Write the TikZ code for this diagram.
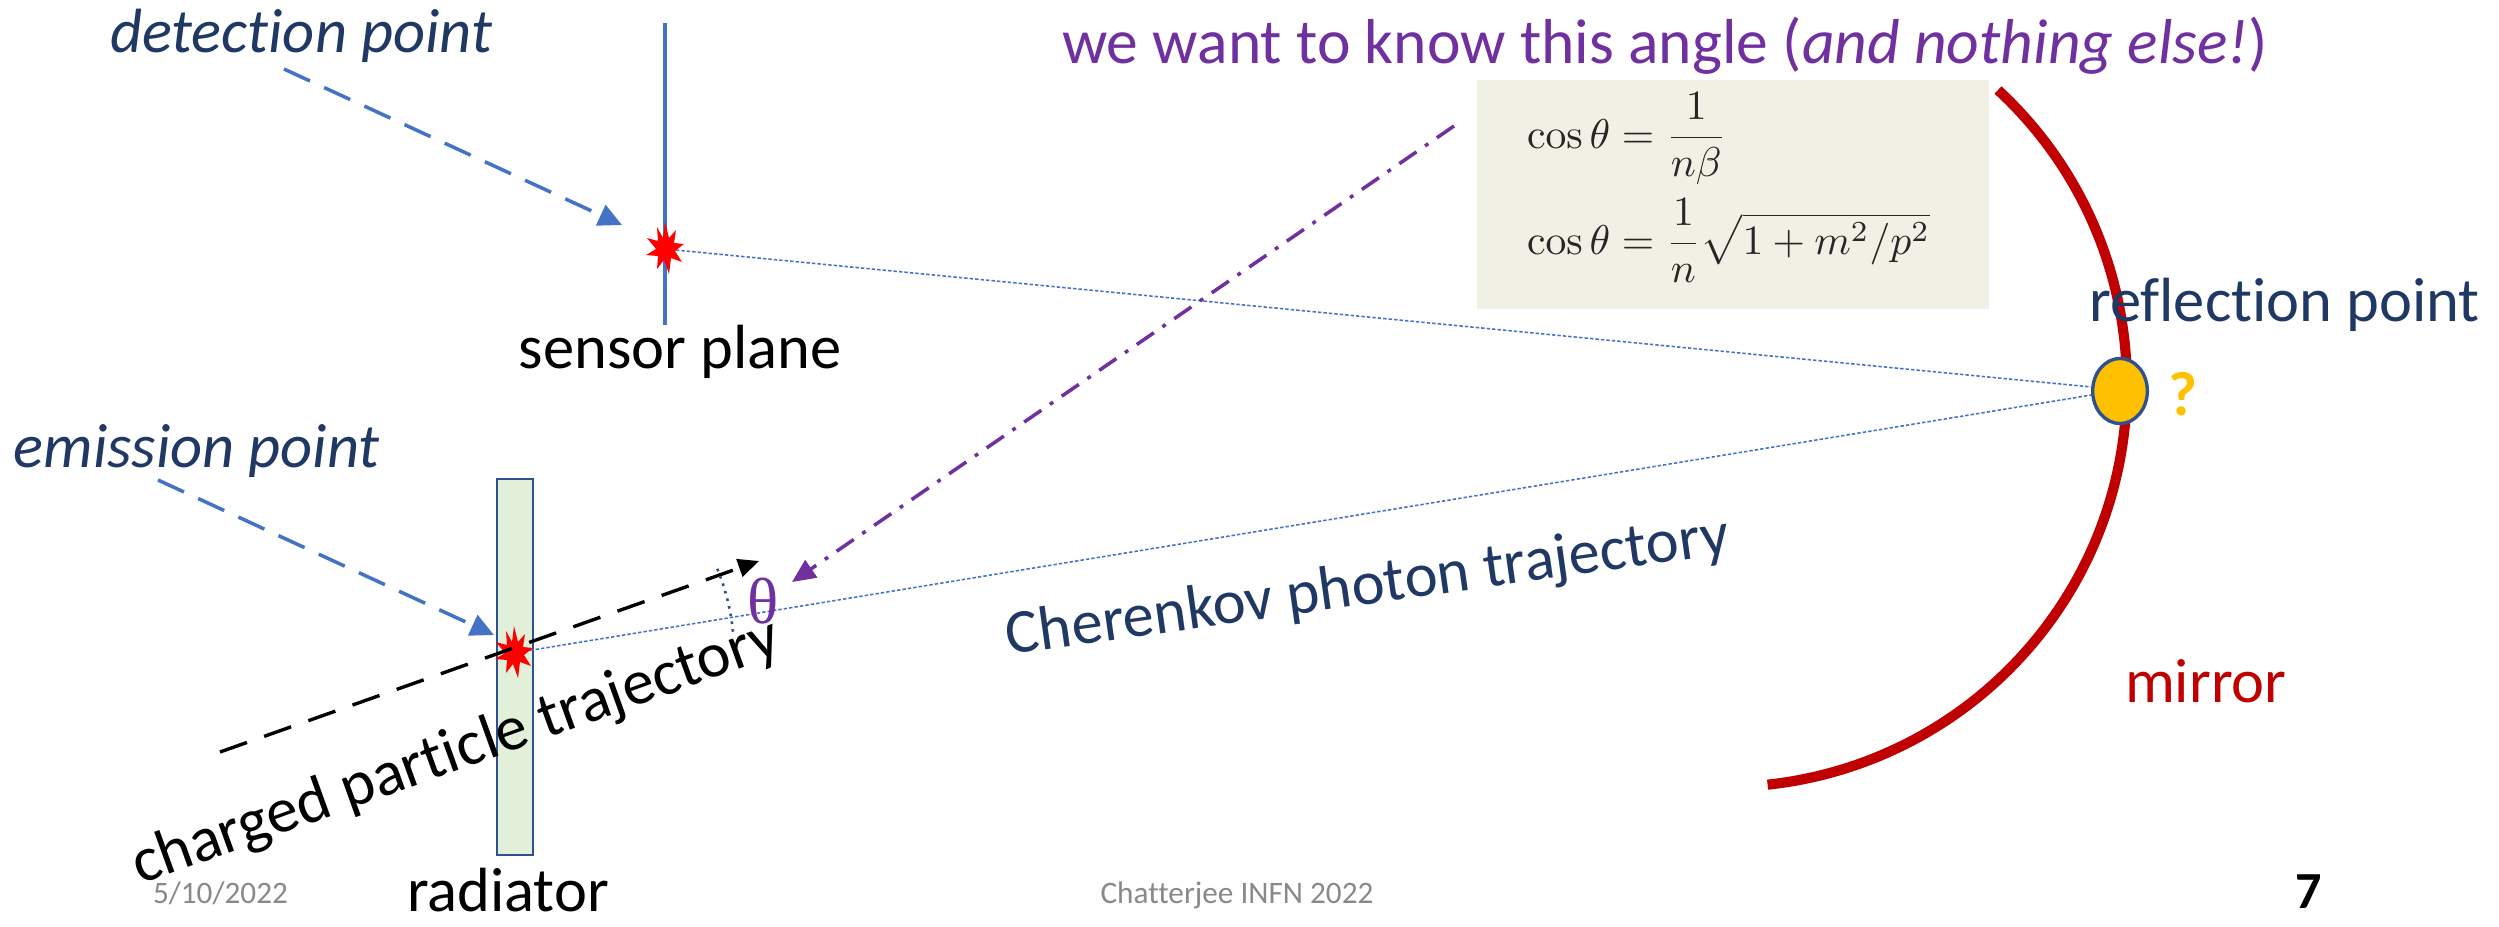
\documentclass[tikz,border=0pt]{standalone}
\usepackage{amsmath}
\usepackage[no-math]{fontspec}
\setmainfont{Carlito}[Ligatures=NoCommon]
\newfontfamily\thetafont{Liberation Serif}
\usetikzlibrary{arrows.meta,shapes.geometric}
\definecolor{navy}{RGB}{31,56,100}
\definecolor{arrblue}{RGB}{68,114,196}
\definecolor{ppl}{RGB}{112,48,160}
\definecolor{mirred}{RGB}{192,0,0}
\definecolor{gold}{RGB}{255,192,0}
\definecolor{edgeblue}{RGB}{47,82,143}
\definecolor{radgreen}{RGB}{226,240,217}
\definecolor{boxbg}{RGB}{241,240,229}
\definecolor{foot}{RGB}{137,137,137}
\tikzset{
  lbl/.style={inner sep=0pt, outer sep=0pt},
  navytxt/.style={lbl, text=navy, font=\fontsize{24}{28}\selectfont},
  blacktxt/.style={lbl, text=black, font=\fontsize{24}{28}\selectfont},
  foottxt/.style={lbl, text=foot, font=\fontsize{12}{14}\selectfont},
  eqtxt/.style={lbl, anchor=base west, text=black!85, font=\fontsize{10}{12}\selectfont},
  pointer/.style={arrblue, line width=1.35pt, dash pattern=on 11pt off 6pt,
    -{Triangle[length=9pt,width=8.5pt]}},
  particle/.style={black, line width=1.3pt, dash pattern=on 11pt off 7pt,
    -{Triangle[length=8pt,width=7pt]}},
  askarrow/.style={ppl, line width=1.35pt, dash pattern=on 8pt off 4pt on 1.5pt off 4pt,
    -{Triangle[length=9pt,width=8pt]}},
  photon/.style={arrblue, line width=0.6pt, dash pattern=on 1.3pt off 0.8pt},
  pics/burst/.style={code={
    \fill[red] (0,-27) -- (4,-11) -- (11,-19) -- (9,-6) -- (19,-5) -- (10,2)
      -- (17,13) -- (6,9) -- (4,25) -- (-1,11) -- (-8,20) -- (-7,7) -- (-19,6)
      -- (-9,0) -- (-18,-11) -- (-7,-8) -- (-8,-22) -- (-2,-11) -- cycle;}}
}
\begin{document}
\begin{tikzpicture}[x=0.38415pt,y=-0.38415pt]
\useasboundingbox (0,0) rectangle (2499,926);
\fill[white] (0,0) rectangle (2499,926);

% formula box
\node[lbl, fill=boxbg, minimum width=196.7pt, minimum height=88pt, anchor=north west] (fbox) at (1477,80) {};
\node[eqtxt] (eqa) at (1527,148) {\scalebox{1.6}{$\displaystyle \cos\theta=\frac{1}{n\beta}$}};
\node[eqtxt] (eqb) at (1527,254) {\scalebox{1.6}{$\displaystyle \cos\theta=\frac{1}{n}\sqrt{1+m^2/p^2}$}};

% mirror
\coordinate (mtop) at (1998,90);
\draw[mirred, line width=3.9pt] (mtop) arc[start angle=-47.2, end angle=83.9, radius=402];
\node[lbl, anchor=base west, text=mirred, font=\fontsize{24}{28}\selectfont] (mirror) at (2125,702) {mirror};

% sensor plane
\coordinate (stop) at (665,23);
\coordinate (sbot) at (665,325);
\draw[arrblue, line width=1.2pt] (stop) -- (sbot);
\coordinate (sstar) at (665,249);
\node[blacktxt, anchor=base] (sensor) at (680,368) {sensor plane};

% radiator
\node[draw=edgeblue, fill=radgreen, line width=1.1pt, minimum width=13.8pt, minimum height=144.4pt, inner sep=0pt] (rad) at (515,667) {};
\coordinate (rstar) at (514,653);
\node[blacktxt, anchor=base] (radiator) at (508,911) {radiator};

% reflection point
\node[ellipse, draw=edgeblue, fill=gold, line width=1.3pt, minimum width=21pt, minimum height=25pt, inner sep=0pt] (refl) at (2120,391) {};
\node[navytxt, anchor=base west] (refltxt) at (2089,321) {reflection point};
\node[lbl, text=gold, font=\bfseries\fontsize{24}{28}\selectfont] (qm) at (2183,394) {?};

% photon paths
\draw[photon] (sstar) -- (refl.172);
\draw[photon] (rstar) -- (refl.188);

% bursts
\pic at (sstar) {burst};
\pic at (rstar) {burst};

% particle trajectory
\coordinate (pstart) at (220,752);
\coordinate (pend) at (759,561);
\draw[particle] (pstart) -- (pend);
\node[blacktxt, anchor=base, rotate=19.8, font=\fontsize{24.5}{28}\selectfont] (ptxt) at (462,769) {charged particle trajectory};

% angle
\draw[edgeblue, line width=1pt, dash pattern=on 1pt off 2pt] (rstar) ++(-22.5:220) arc[start angle=-22.5, end angle=-5.3, radius=220];
\node[lbl, text=ppl, font=\thetafont\fontsize{25}{30}\selectfont] (theta) at (763,601) {θ};

% Cherenkov label
\node[navytxt, anchor=base, rotate=8] (cher) at (1370,604) {Cherenkov photon trajectory};

% labels with pointers
\node[navytxt, anchor=base west, font=\itshape\fontsize{24}{28}\selectfont] (dettxt) at (110,52) {detection point};
\coordinate (detfrom) at (284,69);
\coordinate (detto) at (622,225);
\draw[pointer] (detfrom) -- (detto);

\node[navytxt, anchor=base west, font=\itshape\fontsize{24}{28}\selectfont] (emtxt) at (14,467) {emission point};
\coordinate (emfrom) at (158,480);
\coordinate (emto) at (494,635);
\draw[pointer] (emfrom) -- (emto);

% question
\node[lbl, anchor=base west, text=ppl, font=\fontsize{24.4}{28}\selectfont] (question) at (1062,63) {we want to know this angle (\textit{and nothing else!})};
\coordinate (qfrom) at (1454,126);
\coordinate (qto) at (792,582);
\draw[askarrow] (qfrom) -- (qto);

% footer
\node[foottxt, anchor=base west] (date) at (153,903) {5/10/2022};
\node[foottxt, anchor=base] (auth) at (1237,903) {Chatterjee INFN 2022};
\node[lbl, anchor=base, font=\bfseries\fontsize{20}{24}\selectfont] (page) at (2309,908) {7};
\end{tikzpicture}
\end{document}
